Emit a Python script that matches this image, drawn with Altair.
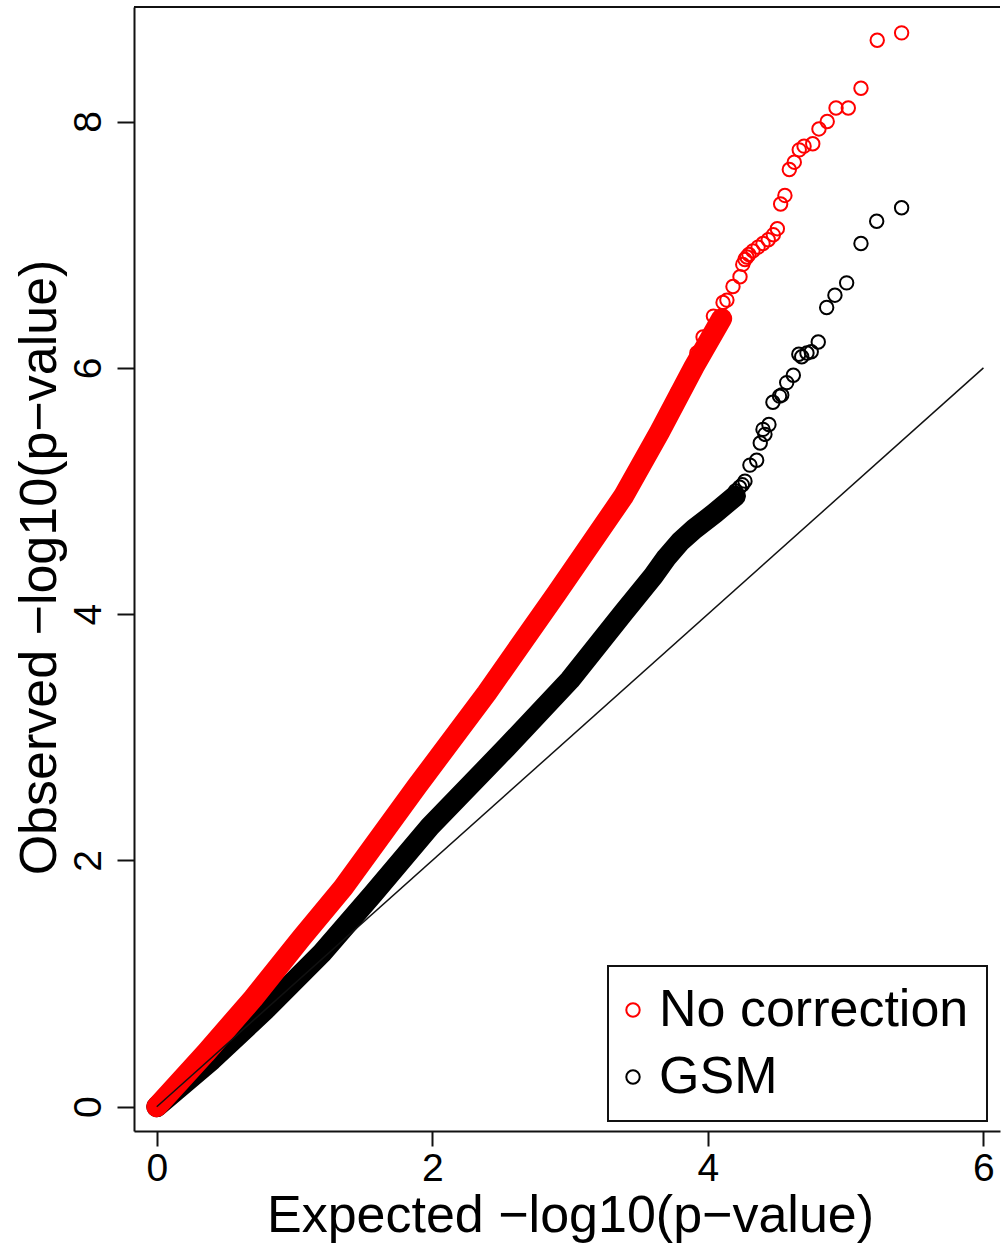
import altair as alt
import pandas as pd

# ---- data ----
series_names = ["No correction", "GSM"]

# dense part of the "No correction" cloud (centre line of the band)
red_band_exp = [0.0, 0.35, 0.70, 1.05, 1.354, 1.887, 2.395, 2.903, 3.386, 3.65, 3.90, 4.10]
red_band_obs = [0.0, 0.43, 0.88, 1.37, 1.78, 2.60, 3.36, 4.17, 4.955, 5.48, 6.01, 6.40]

# individual points of the "No correction" tail
red_tail_exp = [3.63, 3.73, 3.78, 3.85, 3.92, 3.965, 4.04, 4.11, 4.138, 4.182, 4.233, 4.253, 4.269,
                4.283, 4.298, 4.327, 4.364, 4.400, 4.438, 4.475, 4.504, 4.528, 4.559, 4.591,
                4.627, 4.663, 4.698, 4.761, 4.806, 4.866, 4.930, 5.019, 5.111, 5.229, 5.406]
red_tail_obs = [5.44, 5.63, 5.80, 5.93, 6.12, 6.25, 6.42, 6.53, 6.55, 6.66, 6.74, 6.84, 6.88,
                6.90, 6.92, 6.95, 6.98, 7.01, 7.04, 7.08, 7.13, 7.33, 7.40, 7.61,
                7.67, 7.77, 7.80, 7.82, 7.94, 8.00, 8.11, 8.11, 8.27, 8.66, 8.72]

# dense part of the GSM cloud
gsm_band_exp = [0.0, 0.40, 0.80, 1.20, 1.572, 1.983, 2.54, 2.999, 3.386, 3.604, 3.70, 3.80, 3.90, 4.05, 4.20]
gsm_band_obs = [0.0, 0.38, 0.80, 1.25, 1.73, 2.275, 2.92, 3.466, 4.01, 4.31, 4.46, 4.59, 4.69, 4.82, 4.96]

# individual points of the GSM tail
gsm_tail_exp = [4.20, 4.23, 4.25, 4.269, 4.305, 4.354, 4.38, 4.40, 4.414, 4.443, 4.472, 4.52, 4.536,
                4.572, 4.620, 4.66, 4.681, 4.719, 4.75, 4.801, 4.862, 4.922, 5.007, 5.111, 5.225, 5.406]
gsm_tail_obs = [5.00, 5.03, 5.05, 5.08, 5.21, 5.25, 5.39, 5.50, 5.46, 5.54, 5.72, 5.77, 5.78,
                5.88, 5.94, 6.11, 6.09, 6.12, 6.13, 6.21, 6.49, 6.59, 6.69, 7.01, 7.19, 7.30]

# reference line y = x
diag_vals = [0.0, 6.0]

x_ticks = [0, 2, 4, 6]
y_ticks = [0, 2, 4, 6, 8]

# ---- tables ----
red_band = pd.DataFrame({"exp": red_band_exp, "obs": red_band_obs})
gsm_band = pd.DataFrame({"exp": gsm_band_exp, "obs": gsm_band_obs})
red_tail = pd.DataFrame({"exp": red_tail_exp, "obs": red_tail_obs, "series": series_names[0]})
gsm_tail = pd.DataFrame({"exp": gsm_tail_exp, "obs": gsm_tail_obs, "series": series_names[1]})
diag = pd.DataFrame({"exp": diag_vals, "obs": diag_vals})

FONT = "Liberation Sans"
W, H = 866, 1124
PT_SIZE = 180
BAND_W = 21

X = alt.X("exp:Q",
          scale=alt.Scale(domain=[-0.165, 6.12], nice=False, zero=False),
          axis=alt.Axis(values=x_ticks, title="Expected \u2212log10(p\u2212value)",
                        tickSize=15, labelPadding=34, labelBaseline="alphabetic",
                        titleX=436, titleY=100, titleBaseline="alphabetic",
                        titleAlign="center", labelFlush=False))
Y = alt.Y("obs:Q",
          scale=alt.Scale(domain=[-0.197, 8.93], nice=False, zero=False),
          axis=alt.Axis(values=y_ticks, title="Observed \u2212log10(p\u2212value)",
                        tickSize=17, labelPadding=17, labelAngle=270,
                        labelAlign="center", labelBaseline="alphabetic",
                        titleAngle=270, titleX=-79, titleY=560,
                        titleAlign="center", titleBaseline="alphabetic", labelFlush=False))

color = alt.Color("series:N",
                  scale=alt.Scale(domain=series_names, range=["#ff0000", "#000000"]),
                  legend=alt.Legend(title=None, orient="none", legendX=474, legendY=959,
                                    padding=18, rowPadding=15, labelOffset=0,
                                    symbolOffset=-19,
                                    labelFontSize=52, labelFont=FONT, labelColor="#000",
                                    labelLimit=600, symbolType="circle", symbolSize=PT_SIZE,
                                    symbolStrokeWidth=2, symbolFillColor="transparent",
                                    strokeColor="#111", fillColor="white"))

gsm_line = alt.Chart(gsm_band).mark_line(color="#000", strokeWidth=BAND_W, strokeCap="round",
                                          strokeJoin="round").encode(x=X, y=Y)
gsm_pts = alt.Chart(gsm_tail).mark_point(shape="circle", filled=False, size=PT_SIZE,
                                         strokeWidth=2, opacity=1).encode(x=X, y=Y, color=color)
red_line = alt.Chart(red_band).mark_line(color="#ff0000", strokeWidth=BAND_W, strokeCap="round",
                                          strokeJoin="round").encode(x=X, y=Y)
red_pts = alt.Chart(red_tail).mark_point(shape="circle", filled=False, size=PT_SIZE,
                                         strokeWidth=2, opacity=1).encode(x=X, y=Y, color=color)
diag_line = alt.Chart(diag).mark_line(color="#111", strokeWidth=1.5).encode(x=X, y=Y)

top_frame = alt.Chart(pd.DataFrame({"a": [0]})).mark_rule(color="#111", strokeWidth=2).encode(
    x=alt.value(0), x2=alt.value(W), y=alt.value(0))

chart = alt.layer(gsm_line, gsm_pts, red_line, red_pts, diag_line, top_frame).properties(
    width=W, height=H,
    autosize=alt.AutoSizeParams(type="none"),
    padding={"left": 134, "top": 7, "right": 1, "bottom": 114},
    background="white",
).configure_view(stroke=None).configure_axis(
    grid=False, domain=True, domainColor="#111", domainWidth=2,
    tickColor="#111", tickWidth=2,
    labelFont=FONT, labelFontSize=39, labelColor="#000",
    titleFont=FONT, titleFontSize=52, titleFontWeight="normal", titleColor="#000",
).configure_legend(strokeWidth=2)

chart.save("out.html", embed_options={"renderer": "svg", "actions": False})
